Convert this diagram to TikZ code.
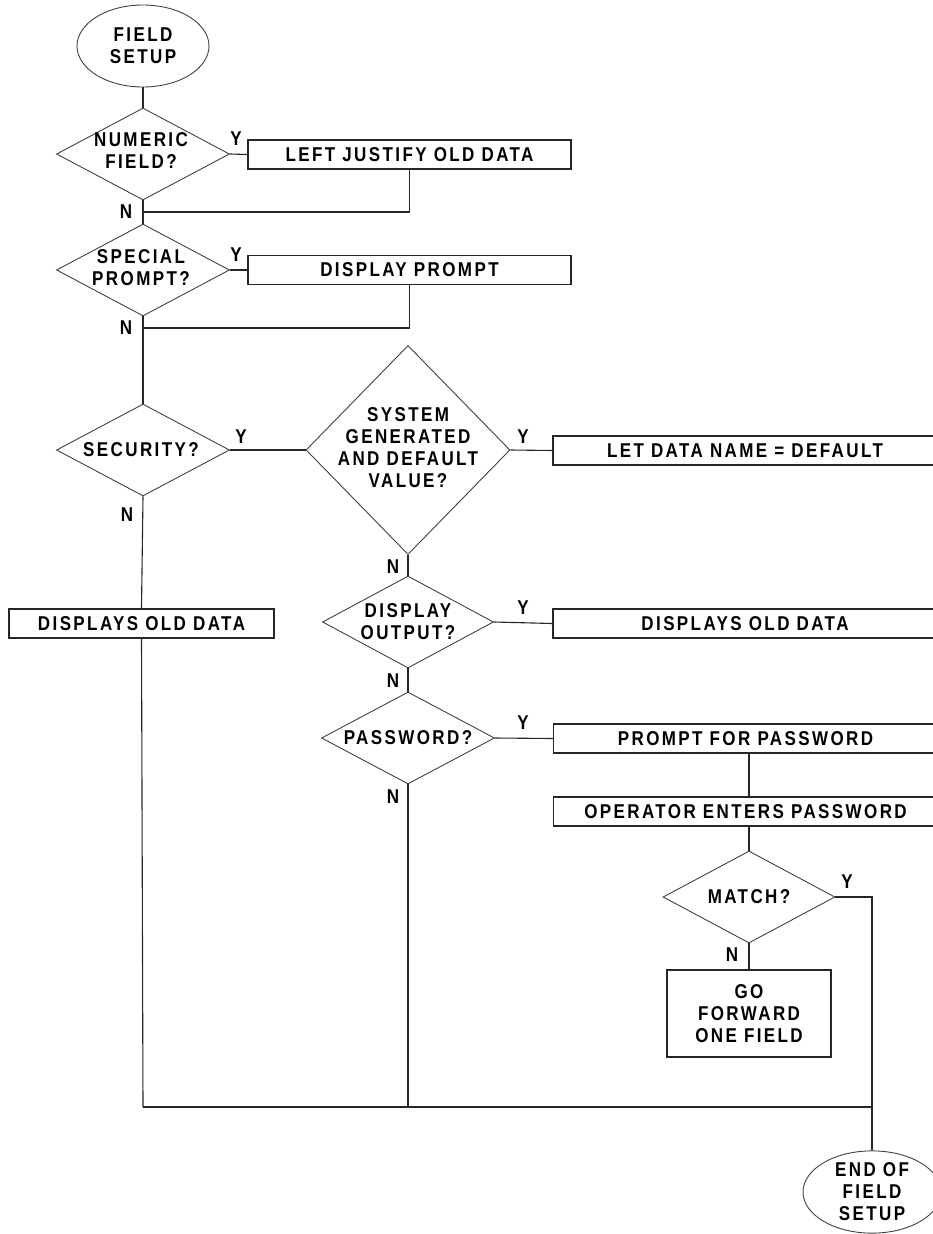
\documentclass[tikz,border=0pt]{standalone}
\usepackage{fontspec}
\newfontfamily\flowfont{Liberation Sans}[FakeStretch=0.85,LetterSpace=12]
\newcommand\flowtext{\flowfont\bfseries\fontsize{20}{22}\selectfont}
\usetikzlibrary{shapes.geometric}
\begin{document}
\begin{tikzpicture}[x=1pt,y=-1pt,
  every node/.style={font=\flowtext, text=black},
  ln/.style={draw=black!85, line width=1.1pt},
  term/.style={ellipse, draw=black!75, line width=0.9pt, minimum width=132, minimum height=82, inner sep=0, align=center},
  dec/.style={diamond, draw=black!75, line width=0.9pt, inner sep=0, minimum width=173, minimum height=92},
  txt/.style={align=center, inner sep=0},
  box/.style={rectangle, draw=black!85, line width=1.1pt, minimum height=29, inner sep=0, align=center},
  lbl/.style={inner sep=0}]
\useasboundingbox (0,0) rectangle (933,1234);

% terminals
\node[term] (start) at (143,46) {FIELD\\SETUP};
\node[term, minimum width=138] (end) at (872,1192) {END OF\\FIELD\\SETUP};

% decisions
\node[dec] (d1) at (143,154) {};
\node[txt] (d1t) at (141,151) {NUMERIC\\FIELD?};
\node[dec] (d2) at (143,270) {};
\node[txt] (d2t) at (141,268) {SPECIAL\\PROMPT?};
\node[dec] (d3) at (143,450) {};
\node[txt] (d3t) at (141,450) {SECURITY?};
\node[dec, minimum width=204, minimum height=209] (d4) at (408,450) {};
\node[txt] (d4t) at (408,448) {SYSTEM\\GENERATED\\AND DEFAULT\\VALUE?};
\node[dec, minimum width=171] (d5) at (408,622) {};
\node[txt] (d5t) at (408,622) {DISPLAY\\OUTPUT?};
\node[dec] (d6) at (408,738) {};
\node[txt] (d6t) at (408,738) {PASSWORD?};
\node[dec, minimum width=172] (d7) at (749,897) {};
\node[txt] (d7t) at (749,897) {MATCH?};

% process boxes
\node[box, minimum width=323] (b1) at (409.5,154.5) {LEFT JUSTIFY OLD DATA};
\node[box, minimum width=323] (b2) at (409.5,270) {DISPLAY PROMPT};
\node[box, minimum width=384] (b3) at (745,450.5) {LET DATA NAME = DEFAULT};
\node[box, minimum width=265] (b4) at (141.5,623.5) {DISPLAYS OLD DATA};
\node[box, minimum width=384] (b5) at (745,623.5) {DISPLAYS OLD DATA};
\node[box, minimum width=384] (b6) at (745.5,738.5) {PROMPT FOR PASSWORD};
\node[box, minimum width=384] (b7) at (745.5,811.5) {OPERATOR ENTERS PASSWORD};
\node[box, minimum width=164, minimum height=87] (b8) at (749,1013.5) {GO\\FORWARD\\ONE FIELD};

% junctions
\coordinate (j1) at (143,212);
\coordinate (j2) at (143,328);
\coordinate (j5) at (143,1107);
\coordinate (j6) at (408,1107);
\coordinate (j7) at (872,1107);
\coordinate (j8) at (872,897);

% connectors
\draw[ln] (start) -- (d1);
\draw[ln] (d1.east) -- (b1.west);
\draw[ln] (b1.south) |- (j1);
\draw[ln] (d1.south) -- (d2.north);
\draw[ln] (d2.east) -- (b2.west);
\draw[ln] (b2.south) |- (j2);
\draw[ln] (d2.south) -- (d3.north);
\draw[ln] (d3.east) -- (d4.west);
\draw[ln] (d4.east) -- (b3.west);
\draw[ln] (d3.south) -- (b4.north);
\draw[ln] (b4.south) -- (j5);
\draw[ln] (d4.south) -- (d5.north);
\draw[ln] (d5.east) -- (b5.west);
\draw[ln] (d5.south) -- (d6.north);
\draw[ln] (d6.east) -- (b6.west);
\draw[ln] (d7 |- b6.south) -- (d7 |- b7.north);
\draw[ln] (d7 |- b7.south) -- (d7.north);
\draw[ln] (d7.south) -- (b8.north);
\draw[ln] (d7.east) -- (j8) -- (j7);
\draw[ln] (d6.south) -- (j6);
\draw[ln] (j5) -- (j7);
\draw[ln] (j7) -- (end);

% labels
\node[lbl] (y1) at (236,139) {Y};
\node[lbl] (n1) at (126,212) {N};
\node[lbl] (y2) at (236,255) {Y};
\node[lbl] (n2) at (126,328) {N};
\node[lbl] (y3) at (241,437) {Y};
\node[lbl] (n3) at (127,515) {N};
\node[lbl] (y4) at (523,437) {Y};
\node[lbl] (n4) at (393,567) {N};
\node[lbl] (y5) at (523,608) {Y};
\node[lbl] (n5) at (393,681) {N};
\node[lbl] (y6) at (523,723) {Y};
\node[lbl] (n6) at (393,797) {N};
\node[lbl] (y7) at (847,882) {Y};
\node[lbl] (n7) at (732,955) {N};
\end{tikzpicture}
\end{document}
